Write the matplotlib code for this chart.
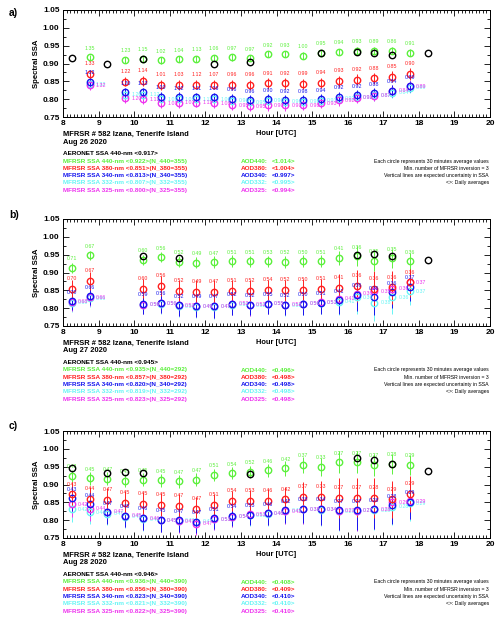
import matplotlib
matplotlib.use('Agg')
import matplotlib.pyplot as plt
from matplotlib.ticker import MultipleLocator, FormatStrFormatter

plt.rcParams['font.family'] = ['Liberation Sans', 'DejaVu Sans']

# ---------------- datos: Aug 26 2020 ----------------
a_hours = [8.75, 9.75, 10.25, 10.75, 11.25, 11.75, 12.25, 12.75, 13.25, 13.75,
           14.25, 14.75, 15.25, 15.75, 16.25, 16.75, 17.25, 17.75]
a_ssa440 = [0.917, 0.910, 0.913, 0.909, 0.912, 0.913, 0.916, 0.917, 0.915, 0.926,
            0.926, 0.922, 0.930, 0.933, 0.936, 0.935, 0.936, 0.930]
a_ssa380 = [0.870, 0.849, 0.851, 0.841, 0.841, 0.841, 0.841, 0.841, 0.839, 0.844,
            0.844, 0.842, 0.846, 0.850, 0.855, 0.858, 0.863, 0.870]
a_ssa340 = [0.849, 0.819, 0.819, 0.806, 0.805, 0.805, 0.805, 0.801, 0.797, 0.800,
            0.797, 0.797, 0.800, 0.806, 0.811, 0.816, 0.823, 0.836]
a_ssa332 = [0.842, 0.812, 0.813, 0.800, 0.800, 0.800, 0.800, 0.796, 0.792, 0.795,
            0.793, 0.793, 0.796, 0.801, 0.806, 0.811, 0.818, 0.832]
a_ssa325 = [0.839, 0.802, 0.800, 0.788, 0.790, 0.790, 0.788, 0.783, 0.780, 0.783,
            0.783, 0.783, 0.789, 0.797, 0.804, 0.810, 0.823, 0.836]
a_aod440 = [1.35, 1.23, 1.15, 1.02, 1.04, 1.13, 1.06, 0.97, 0.97, 0.92,
            0.93, 1.00, 0.95, 0.94, 0.93, 0.89, 0.86, 0.91]
a_aod380 = [1.33, 1.22, 1.14, 1.01, 1.03, 1.12, 1.07, 0.96, 0.96, 0.91,
            0.92, 0.99, 0.94, 0.93, 0.92, 0.88, 0.85, 0.90]
a_aod340 = [1.32, 1.20, 1.13, 1.00, 1.02, 1.11, 1.06, 0.96, 0.96, 0.90,
            0.92, 0.98, 0.94, 0.92, 0.92, 0.88, 0.84, 0.89]
a_aod332 = [1.32, 1.20, 1.12, 1.00, 1.01, 1.11, 1.06, 0.96, 0.95, 0.90,
            0.91, 0.98, 0.93, 0.92, 0.92, 0.87, 0.84, 0.89]
a_aod325 = [1.32, 1.20, 1.12, 1.00, 1.01, 1.11, 1.06, 0.95, 0.95, 0.90,
            0.91, 0.98, 0.93, 0.92, 0.92, 0.87, 0.84, 0.89]
a_err_vis = [0.008, 0.008, 0.008, 0.009, 0.009, 0.008, 0.008, 0.009, 0.009, 0.009,
             0.009, 0.009, 0.009, 0.009, 0.009, 0.010, 0.010, 0.010]
a_err_uv = [0.012, 0.012, 0.013, 0.014, 0.014, 0.013, 0.013, 0.014, 0.014, 0.015,
            0.015, 0.014, 0.014, 0.015, 0.015, 0.016, 0.016, 0.016]
a_aero_hours = [8.25, 9.25, 10.25, 12.25, 13.25, 15.25, 16.25, 16.75, 17.25, 18.25]
a_aero_ssa = [0.915, 0.900, 0.913, 0.900, 0.903, 0.929, 0.932, 0.929, 0.924, 0.930]

# ---------------- datos: Aug 27 2020 ----------------
b_hours = [8.25, 8.75, 10.25, 10.75, 11.25, 11.75, 12.25, 12.75, 13.25, 13.75,
           14.25, 14.75, 15.25, 15.75, 16.25, 16.75, 17.25, 17.75]
b_ssa440 = [0.913, 0.948, 0.935, 0.943, 0.930, 0.928, 0.929, 0.932, 0.931, 0.931,
            0.930, 0.932, 0.932, 0.941, 0.946, 0.933, 0.940, 0.932]
b_ssa380 = [0.853, 0.877, 0.855, 0.862, 0.849, 0.846, 0.845, 0.849, 0.848, 0.852,
            0.850, 0.852, 0.853, 0.857, 0.863, 0.855, 0.858, 0.872]
b_ssa340 = [0.820, 0.833, 0.812, 0.815, 0.808, 0.806, 0.806, 0.812, 0.810, 0.813,
            0.810, 0.812, 0.815, 0.822, 0.838, 0.830, 0.845, 0.860]
b_ssa332 = [0.815, 0.828, 0.810, 0.812, 0.806, 0.804, 0.804, 0.810, 0.808, 0.812,
            0.808, 0.812, 0.815, 0.818, 0.830, 0.815, 0.830, 0.848]
b_ssa325 = [0.818, 0.830, 0.810, 0.814, 0.808, 0.806, 0.806, 0.812, 0.809, 0.813,
            0.810, 0.813, 0.816, 0.826, 0.840, 0.848, 0.855, 0.872]
b_aod440 = [0.71, 0.67, 0.60, 0.56, 0.52, 0.49, 0.47, 0.51, 0.51, 0.53,
            0.52, 0.50, 0.51, 0.41, 0.36, 0.35, 0.35, 0.36]
b_aod380 = [0.70, 0.67, 0.60, 0.56, 0.52, 0.49, 0.47, 0.51, 0.52, 0.54,
            0.52, 0.50, 0.51, 0.41, 0.36, 0.36, 0.36, 0.36]
b_aod340 = [0.70, 0.66, 0.59, 0.56, 0.52, 0.49, 0.47, 0.52, 0.52, 0.55,
            0.52, 0.50, 0.51, 0.41, 0.36, 0.36, 0.36, 0.37]
b_aod332 = [0.69, 0.66, 0.59, 0.56, 0.52, 0.49, 0.47, 0.52, 0.52, 0.55,
            0.52, 0.50, 0.51, 0.41, 0.36, 0.38, 0.36, 0.37]
b_aod325 = [0.68, 0.66, 0.59, 0.56, 0.53, 0.49, 0.47, 0.52, 0.52, 0.55,
            0.52, 0.50, 0.51, 0.41, 0.36, 0.35, 0.36, 0.37]
b_err_vis = [0.014, 0.012, 0.014, 0.014, 0.015, 0.016, 0.017, 0.016, 0.016, 0.015,
             0.016, 0.016, 0.016, 0.020, 0.028, 0.030, 0.026, 0.022]
b_err_uv = [0.025, 0.025, 0.027, 0.028, 0.030, 0.032, 0.033, 0.030, 0.030, 0.028,
            0.030, 0.030, 0.030, 0.038, 0.045, 0.050, 0.045, 0.040]
b_aero_hours = [10.25, 11.25, 16.25, 16.75, 17.25, 18.25]
b_aero_ssa = [0.945, 0.941, 0.950, 0.953, 0.945, 0.936]

# ---------------- datos: Aug 28 2020 ----------------
c_hours = [8.25, 8.75, 9.25, 9.75, 10.25, 10.75, 11.25, 11.75, 12.25, 12.75,
           13.25, 13.75, 14.25, 14.75, 15.25, 15.75, 16.25, 16.75, 17.25, 17.75]
c_ssa440 = [0.924, 0.917, 0.916, 0.911, 0.914, 0.912, 0.909, 0.914, 0.927, 0.932,
            0.935, 0.940, 0.945, 0.955, 0.950, 0.963, 0.963, 0.955, 0.958, 0.955]
c_ssa380 = [0.872, 0.860, 0.857, 0.848, 0.845, 0.842, 0.840, 0.832, 0.843, 0.853,
            0.855, 0.855, 0.858, 0.866, 0.865, 0.862, 0.863, 0.862, 0.858, 0.873]
c_ssa340 = [0.862, 0.845, 0.822, 0.813, 0.806, 0.801, 0.800, 0.796, 0.805, 0.812,
            0.815, 0.820, 0.828, 0.832, 0.832, 0.828, 0.828, 0.830, 0.842, 0.852]
c_ssa332 = [0.830, 0.822, 0.818, 0.810, 0.803, 0.800, 0.799, 0.795, 0.803, 0.810,
            0.814, 0.818, 0.826, 0.830, 0.829, 0.825, 0.826, 0.828, 0.838, 0.848]
c_ssa325 = [0.845, 0.832, 0.824, 0.813, 0.805, 0.800, 0.797, 0.790, 0.802, 0.810,
            0.817, 0.820, 0.825, 0.830, 0.831, 0.827, 0.826, 0.831, 0.850, 0.853]
c_aod440 = [0.43, 0.45, 0.47, 0.45, 0.45, 0.45, 0.47, 0.47, 0.51, 0.54,
            0.52, 0.46, 0.42, 0.37, 0.33, 0.27, 0.27, 0.27, 0.28, 0.29]
c_aod380 = [0.43, 0.44, 0.47, 0.45, 0.45, 0.45, 0.47, 0.47, 0.51, 0.54,
            0.53, 0.46, 0.42, 0.37, 0.33, 0.27, 0.27, 0.28, 0.29, 0.29]
c_aod340 = [0.43, 0.44, 0.47, 0.45, 0.46, 0.45, 0.47, 0.47, 0.51, 0.54,
            0.53, 0.46, 0.42, 0.38, 0.34, 0.27, 0.27, 0.28, 0.28, 0.29]
c_aod332 = [0.42, 0.44, 0.47, 0.45, 0.46, 0.45, 0.47, 0.47, 0.51, 0.54,
            0.53, 0.46, 0.42, 0.38, 0.34, 0.27, 0.27, 0.28, 0.28, 0.29]
c_aod325 = [0.42, 0.44, 0.47, 0.45, 0.46, 0.45, 0.47, 0.47, 0.51, 0.54,
            0.53, 0.46, 0.42, 0.38, 0.34, 0.27, 0.27, 0.28, 0.29, 0.29]
c_err_vis = [0.018, 0.018, 0.018, 0.018, 0.018, 0.018, 0.018, 0.018, 0.017, 0.016,
             0.016, 0.018, 0.020, 0.022, 0.025, 0.030, 0.030, 0.030, 0.028, 0.027]
c_err_uv = [0.035, 0.033, 0.032, 0.033, 0.033, 0.033, 0.032, 0.032, 0.030, 0.028,
            0.029, 0.033, 0.036, 0.040, 0.045, 0.055, 0.055, 0.055, 0.052, 0.050]
c_aero_hours = [8.25, 9.25, 9.75, 10.25, 13.25, 16.25, 16.75, 17.25, 18.25]
c_aero_ssa = [0.945, 0.932, 0.935, 0.932, 0.930, 0.975, 0.970, 0.958, 0.937]

# textos de cada panel
fechas = ['Aug 26 2020', 'Aug 27 2020', 'Aug 28 2020']
aeronet_prom = ['0.917', '0.945', '0.946']
ssa_prom = [['0.922', '0.851', '0.813', '0.807', '0.800'],
            ['0.935', '0.857', '0.820', '0.819', '0.823'],
            ['0.936', '0.856', '0.823', '0.821', '0.822']]
n_obs = ['355', '292', '390']
aod_prom = [['1.014', '1.004', '0.997', '0.995', '0.994'],
            ['0.496', '0.498', '0.498', '0.498', '0.498'],
            ['0.408', '0.409', '0.410', '0.410', '0.410']]
longitudes = ['440', '380', '340', '332', '325']
notas = ['Each circle represents 30 minutes average values',
         'Min. number of MFRSR inversion = 3',
         'Vertical lines are expected uncertainty in SSA',
         '<>: Daily averages']

GREEN = '#5cf03c'
RED = '#ff2020'
BLUE = '#1515ee'
CYAN = '#66f5f5'
MAGENTA = '#ee33ee'
colores = [GREEN, RED, BLUE, CYAN, MAGENTA]

W, H = 500, 620


def fx(x):
    return x / W


def fy(y):
    return 1 - y / H


def dibujar_panel(ax, hours, ssa, aod, err_vis, err_uv, aero_hours, aero_ssa):
    # orden de dibujo: cian, magenta, azul, rojo, verde
    for i in [3, 4, 2, 1, 0]:
        col = colores[i]
        err = err_vis if i == 0 else err_uv
        lo = [s - e for s, e in zip(ssa[i], err)]
        hi = [s + e for s, e in zip(ssa[i], err)]
        ax.vlines(hours, lo, hi, color=col, lw=0.7, zorder=2)
        ax.plot(hours, ssa[i], 'o', mfc='none', mec=col, ms=4.6, mew=1.0, zorder=3)
        for h, s, a in zip(hours, ssa[i], aod[i]):
            if i in (3, 4):
                ax.annotate(f'{a:.2f}', (h, s), xytext=(4.5, 0), textcoords='offset points',
                            ha='left', va='center', fontsize=3.8, color=col, zorder=4)
            else:
                dy = 7.5 if i == 1 else 6.5
                ax.annotate(f'{a:.2f}', (h, s), xytext=(0, dy), textcoords='offset points',
                            ha='center', va='center', fontsize=3.8, color=col, zorder=4)
    ax.plot(aero_hours, aero_ssa, 'o', mfc='none', mec='black', ms=4.6, mew=1.0, zorder=5)

    ax.set_xlim(8, 20)
    ax.set_ylim(0.75, 1.05)
    ax.xaxis.set_major_locator(MultipleLocator(1))
    ax.xaxis.set_minor_locator(MultipleLocator(0.1))
    ax.yaxis.set_major_locator(MultipleLocator(0.05))
    ax.yaxis.set_minor_locator(MultipleLocator(0.025))
    ax.yaxis.set_major_formatter(FormatStrFormatter('%.2f'))
    ax.tick_params(which='both', direction='in', top=True, right=True, width=0.6)
    ax.tick_params(which='major', length=4, labelsize=6, pad=2.5)
    ax.tick_params(which='minor', length=2)
    for lab in ax.get_xticklabels() + ax.get_yticklabels():
        lab.set_fontweight('bold')
    for sp in ax.spines.values():
        sp.set_linewidth(0.7)


def dibujar_textos(fig, k, top, bot, etiqueta):
    fig.text(fx(9), fy(etiqueta), 'abc'[k] + ')', fontsize=7.5, fontweight='bold', va='center')
    fig.text(fx(37), fy((top + bot) / 2), 'Spectral SSA', rotation=90, fontsize=5.6,
             fontweight='bold', ha='center', va='center')
    fig.text(fx(63), fy(bot + 17), 'MFRSR # 582 Izana, Tenerife Island', fontsize=5.4,
             fontweight='bold', va='center')
    fig.text(fx(63), fy(bot + 25), fechas[k], fontsize=5.4, fontweight='bold', va='center')
    fig.text(fx(276), fy(bot + 17), 'Hour [UTC]', fontsize=5.4, fontweight='bold',
             ha='center', va='center')
    fig.text(fx(63), fy(bot + 36.5), f'AERONET SSA 440-nm <{aeronet_prom[k]}>', fontsize=4.6,
             fontweight='bold', va='center', color='black')
    for j in range(5):
        y = bot + 44 + 7.3 * j
        col = colores[j]
        wl = longitudes[j]
        fig.text(fx(63), fy(y), f'MFRSR SSA {wl}-nm <{ssa_prom[k][j]}>(N_{wl}={n_obs[k]})',
                 fontsize=4.6, fontweight='bold', va='center', color=col)
        fig.text(fx(241), fy(y), f'AOD{wl}:', fontsize=4.6, fontweight='bold',
                 va='center', color=col)
        fig.text(fx(272), fy(y), f'<{aod_prom[k][j]}>', fontsize=4.6, fontweight='bold',
                 va='center', color=col)
    for j, nota in enumerate(notas):
        fig.text(fx(489), fy(bot + 44 + 7.1 * j), nota, fontsize=3.7, ha='right',
                 va='center', color='black')


fig = plt.figure(figsize=(5, 6.2), dpi=100)

paneles = [
    (a_hours, [a_ssa440, a_ssa380, a_ssa340, a_ssa332, a_ssa325],
     [a_aod440, a_aod380, a_aod340, a_aod332, a_aod325], a_err_vis, a_err_uv,
     a_aero_hours, a_aero_ssa),
    (b_hours, [b_ssa440, b_ssa380, b_ssa340, b_ssa332, b_ssa325],
     [b_aod440, b_aod380, b_aod340, b_aod332, b_aod325], b_err_vis, b_err_uv,
     b_aero_hours, b_aero_ssa),
    (c_hours, [c_ssa440, c_ssa380, c_ssa340, c_ssa332, c_ssa325],
     [c_aod440, c_aod380, c_aod340, c_aod332, c_aod325], c_err_vis, c_err_uv,
     c_aero_hours, c_aero_ssa),
]
# posiciones en pixeles (arriba, abajo) y de la etiqueta a), b), c)
tops = [10, 219, 431]
bots = [117, 326, 538]
etiquetas = [13, 215, 426]

for k, datos in enumerate(paneles):
    top, bot = tops[k], bots[k]
    ax = fig.add_axes([fx(63), fy(bot), fx(490) - fx(63), (bot - top) / H])
    dibujar_panel(ax, *datos)
    dibujar_textos(fig, k, top, bot, etiquetas[k])

fig.savefig('out.png', dpi=100)
